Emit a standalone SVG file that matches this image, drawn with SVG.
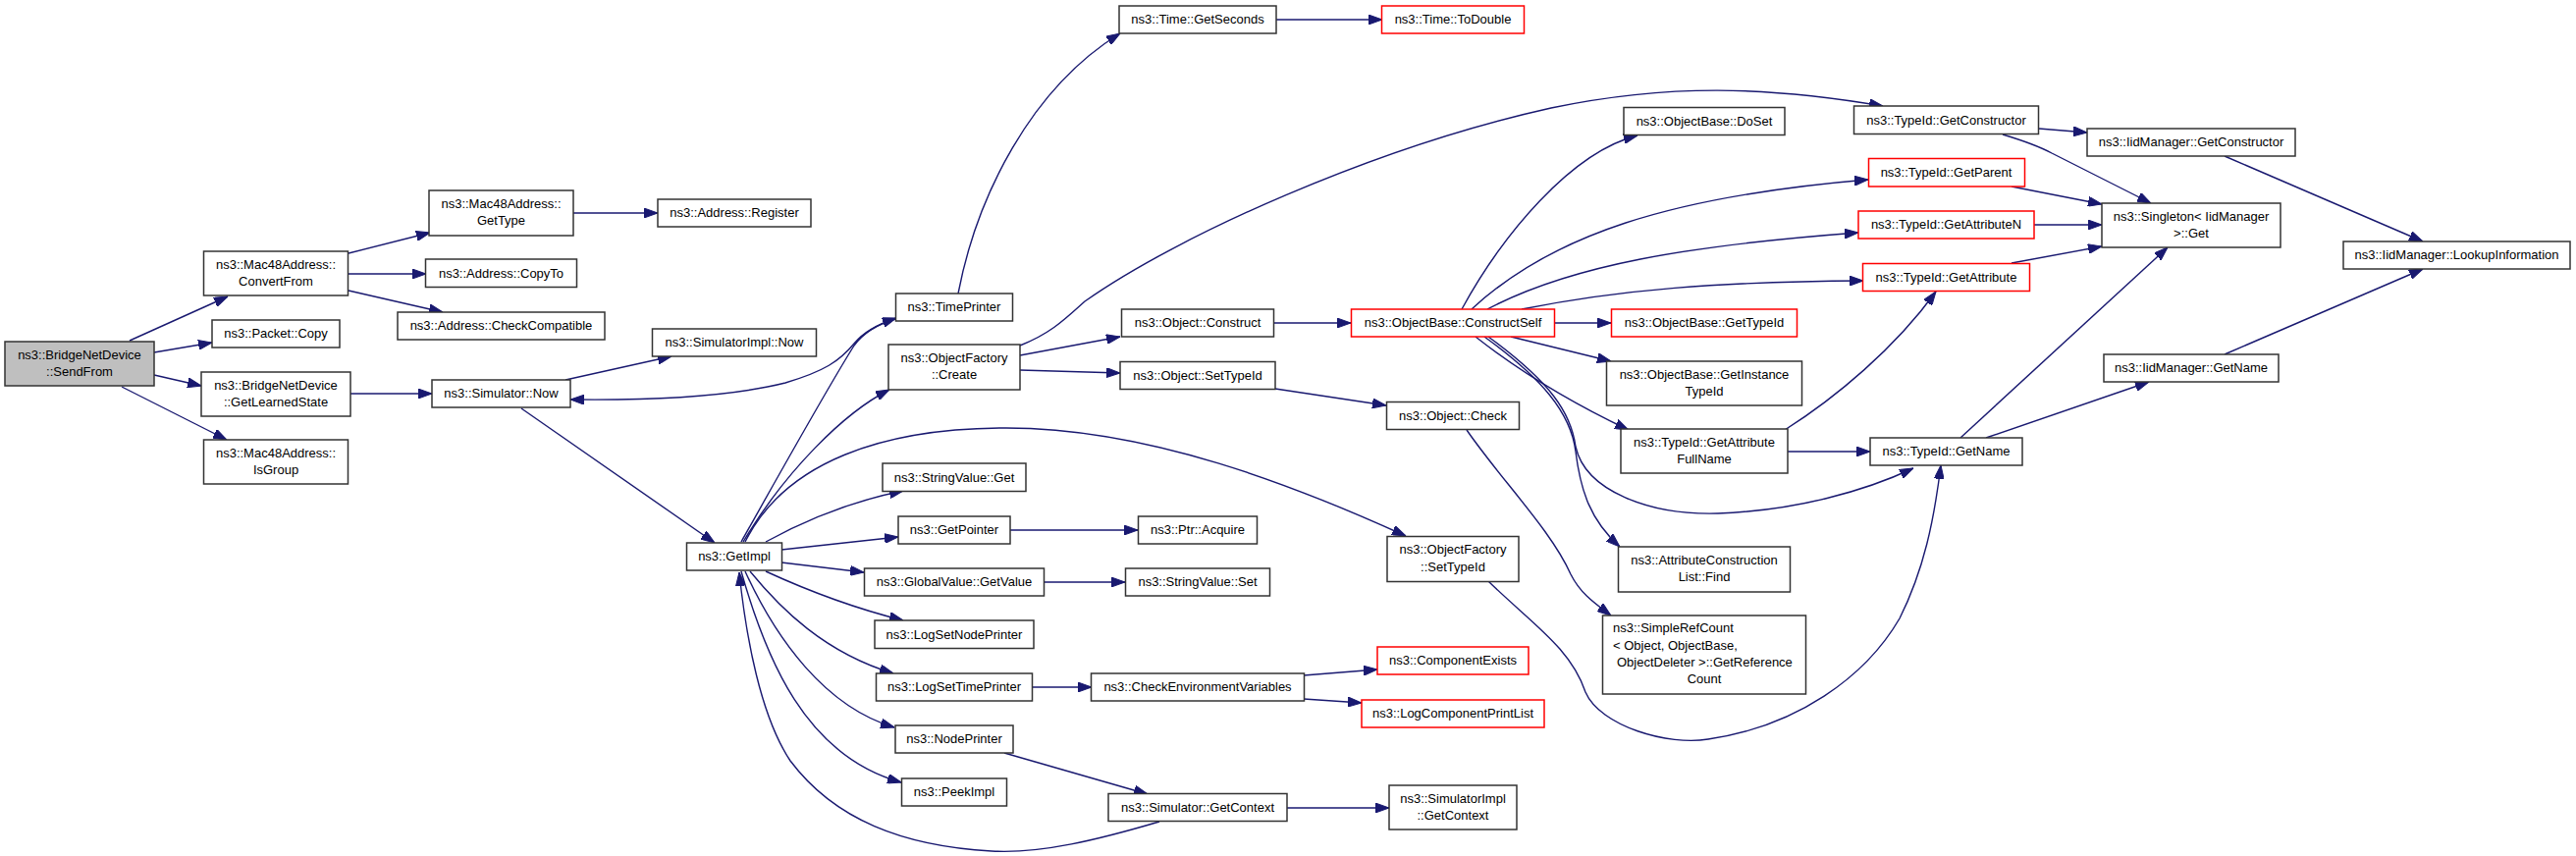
<svg xmlns="http://www.w3.org/2000/svg" width="2624" height="872" viewBox="0 0 2624 872">
<style>
.node rect{fill:#fff;stroke:#333;stroke-width:1.5}
.node.red rect{stroke:#f00}
.node.root rect{fill:#bfbfbf}
text{font-family:"Liberation Sans",Arial,Helvetica,sans-serif;font-size:13px;fill:#000;text-anchor:middle}
text.l{text-anchor:start}
#edges path{fill:none;stroke:#191970;stroke-width:1.4;marker-end:url(#ah)}
</style>
<defs>
<marker id="ah" markerWidth="14" markerHeight="10" refX="14" refY="5" orient="auto" markerUnits="userSpaceOnUse">
<path d="M0,0 L14,5 L0,10 z" fill="#191970" stroke="#191970" stroke-width="1"/>
</marker>
</defs>
<rect width="2624" height="872" fill="#fff"/>
<g id="edges">
<path d="M132,347 L232,302"/>
<path d="M157,359 L216,349"/>
<path d="M157,382 L205,393"/>
<path d="M124,394 L231,448"/>
<path d="M355,258 L438,237"/>
<path d="M355,279 L434,279"/>
<path d="M355,296 L451,318"/>
<path d="M584,217 L670,217"/>
<path d="M357,401 L440,401"/>
<path d="M576,387 L684,363"/>
<path d="M531,416 L728,553"/>
<path d="M912,325 C895,330 880,338 870,350 C855,368 840,378 800,390 C740,405 660,408 581,407"/>
<path d="M755,552 C790,490 840,400 870,352 C880,338 895,330 913,324"/>
<path d="M757,552 C800,480 860,420 906,397"/>
<path d="M759,552 C800,470 900,436 1025,436 C1170,436 1320,495 1432,546"/>
<path d="M780,552 C820,530 870,510 920,500"/>
<path d="M796,560 L915,547"/>
<path d="M796,573 L880,583"/>
<path d="M780,582 C830,605 880,622 920,632"/>
<path d="M764,582 C795,620 840,665 910,686"/>
<path d="M759,582 C790,650 840,720 911,741"/>
<path d="M755,582 C780,670 820,770 918,797"/>
<path d="M1181,837 C1120,855 1060,870 1010,867 C920,862 850,835 805,775 C775,730 760,650 753,583"/>
<path d="M1029,540 L1159,540"/>
<path d="M1063,593 L1146,593"/>
<path d="M1051,700 L1112,700"/>
<path d="M1023,767 L1169,809"/>
<path d="M1328,688 L1403,682"/>
<path d="M1328,712 L1387,716"/>
<path d="M1311,823 L1415,823"/>
<path d="M976,299 C995,200 1050,90 1141,34"/>
<path d="M1300,20 L1408,20"/>
<path d="M1039,352 C1070,340 1085,325 1105,307 C1200,240 1400,150 1580,110 C1700,85 1800,88 1918,108"/>
<path d="M1039,362 L1141,343"/>
<path d="M1039,377 L1141,380"/>
<path d="M1297,329 L1376,329"/>
<path d="M1299,396 L1412,413"/>
<path d="M1494,438 C1530,490 1580,540 1600,585 C1610,605 1625,615 1641,627"/>
<path d="M1516,592 C1560,635 1600,660 1615,705 C1630,740 1700,760 1740,753 C1830,740 1900,690 1935,630 C1960,580 1970,530 1977,474"/>
<path d="M1489,315 C1530,240 1600,155 1668,138"/>
<path d="M1499,315 C1580,240 1700,200 1903,183"/>
<path d="M1515,315 C1600,270 1720,250 1893,237"/>
<path d="M1550,315 C1650,295 1750,287 1898,286"/>
<path d="M1583,329 L1641,329"/>
<path d="M1539,343 L1641,368"/>
<path d="M1503,343 C1550,380 1600,410 1659,438"/>
<path d="M1512,343 C1570,385 1600,420 1605,460 C1610,500 1620,530 1650,557"/>
<path d="M1516,343 C1580,390 1600,420 1605,455 C1615,500 1680,525 1750,523 C1830,520 1900,500 1949,477"/>
<path d="M1818,438 C1870,405 1930,355 1972,297"/>
<path d="M1820,460 L1905,460"/>
<path d="M2077,131 L2126,135"/>
<path d="M2040,137 C2060,143 2075,148 2090,156 L2191,207"/>
<path d="M2049,190 L2141,208"/>
<path d="M2072,229 L2141,229"/>
<path d="M2049,268 L2141,251"/>
<path d="M1997,446 L2208,252"/>
<path d="M2023,446 L2189,389"/>
<path d="M2266,159 L2468,246"/>
<path d="M2266,361 L2468,274"/>
</g>
<g id="n_sendfrom" class="node root"><rect x="5" y="348" width="152" height="45"/><text x="81" y="365.5">ns3::BridgeNetDevice</text><text x="81" y="383">::SendFrom</text></g>
<g id="n_convertfrom" class="node"><rect x="207.5" y="256" width="147" height="45"/><text x="281" y="273.5">ns3::Mac48Address::</text><text x="281" y="291">ConvertFrom</text></g>
<g id="n_packetcopy" class="node"><rect x="216" y="326" width="130" height="28"/><text x="281" y="344">ns3::Packet::Copy</text></g>
<g id="n_getlearnedstate" class="node"><rect x="205" y="379" width="152" height="45"/><text x="281" y="396.5">ns3::BridgeNetDevice</text><text x="281" y="414">::GetLearnedState</text></g>
<g id="n_isgroup" class="node"><rect x="207.5" y="448" width="147" height="45"/><text x="281" y="465.5">ns3::Mac48Address::</text><text x="281" y="483">IsGroup</text></g>
<g id="n_gettype" class="node"><rect x="437" y="194" width="147" height="46"/><text x="510.5" y="211.5">ns3::Mac48Address::</text><text x="510.5" y="229">GetType</text></g>
<g id="n_copyto" class="node"><rect x="433.5" y="264" width="154" height="28.5"/><text x="510.5" y="282.5">ns3::Address::CopyTo</text></g>
<g id="n_checkcompatible" class="node"><rect x="405" y="318" width="211" height="28"/><text x="510.5" y="336">ns3::Address::CheckCompatible</text></g>
<g id="n_simnow" class="node"><rect x="440" y="387" width="141" height="28"/><text x="510.5" y="405">ns3::Simulator::Now</text></g>
<g id="n_register" class="node"><rect x="670" y="203" width="156" height="28"/><text x="748" y="221">ns3::Address::Register</text></g>
<g id="n_simimplnow" class="node"><rect x="664.5" y="335" width="167" height="28"/><text x="748" y="353">ns3::SimulatorImpl::Now</text></g>
<g id="n_getimpl" class="node"><rect x="699.5" y="553" width="97" height="28"/><text x="748" y="571">ns3::GetImpl</text></g>
<g id="n_timeprinter" class="node"><rect x="912.5" y="299" width="119" height="28"/><text x="972" y="317">ns3::TimePrinter</text></g>
<g id="n_create" class="node"><rect x="905" y="351" width="134" height="46"/><text x="972" y="368.5">ns3::ObjectFactory</text><text x="972" y="386">::Create</text></g>
<g id="n_stringget" class="node"><rect x="899" y="472" width="146" height="28.5"/><text x="972" y="490.5">ns3::StringValue::Get</text></g>
<g id="n_getpointer" class="node"><rect x="915" y="526" width="114" height="28"/><text x="972" y="544">ns3::GetPointer</text></g>
<g id="n_globalgetvalue" class="node"><rect x="880.5" y="579" width="183" height="28"/><text x="972" y="597">ns3::GlobalValue::GetValue</text></g>
<g id="n_logsetnodeprinter" class="node"><rect x="891" y="632" width="162" height="28.5"/><text x="972" y="650.5">ns3::LogSetNodePrinter</text></g>
<g id="n_logsettimeprinter" class="node"><rect x="892.5" y="686" width="159" height="28"/><text x="972" y="704">ns3::LogSetTimePrinter</text></g>
<g id="n_nodeprinter" class="node"><rect x="912" y="739" width="120" height="28"/><text x="972" y="757">ns3::NodePrinter</text></g>
<g id="n_peekimpl" class="node"><rect x="918.5" y="793" width="107" height="28"/><text x="972" y="811">ns3::PeekImpl</text></g>
<g id="n_getseconds" class="node"><rect x="1140" y="6" width="160" height="28"/><text x="1220" y="24">ns3::Time::GetSeconds</text></g>
<g id="n_construct" class="node"><rect x="1142.5" y="315" width="155" height="28"/><text x="1220" y="333">ns3::Object::Construct</text></g>
<g id="n_objsettypeid" class="node"><rect x="1141" y="368.5" width="158" height="28"/><text x="1220" y="386.5">ns3::Object::SetTypeId</text></g>
<g id="n_acquire" class="node"><rect x="1159.5" y="526" width="121" height="28"/><text x="1220" y="544">ns3::Ptr::Acquire</text></g>
<g id="n_stringset" class="node"><rect x="1146.5" y="579" width="147" height="28"/><text x="1220" y="597">ns3::StringValue::Set</text></g>
<g id="n_checkenv" class="node"><rect x="1111.5" y="686" width="217" height="28"/><text x="1220" y="704">ns3::CheckEnvironmentVariables</text></g>
<g id="n_getcontext" class="node"><rect x="1129" y="808.5" width="182" height="28"/><text x="1220" y="826.5">ns3::Simulator::GetContext</text></g>
<g id="n_todouble" class="node red"><rect x="1407.5" y="6" width="145" height="28"/><text x="1480" y="24">ns3::Time::ToDouble</text></g>
<g id="n_constructself" class="node red"><rect x="1376.5" y="315" width="207" height="28"/><text x="1480" y="333">ns3::ObjectBase::ConstructSelf</text></g>
<g id="n_objcheck" class="node"><rect x="1412.5" y="409.5" width="135" height="28"/><text x="1480" y="427.5">ns3::Object::Check</text></g>
<g id="n_ofsettypeid" class="node"><rect x="1413" y="546.5" width="134" height="46"/><text x="1480" y="564">ns3::ObjectFactory</text><text x="1480" y="581.5">::SetTypeId</text></g>
<g id="n_componentexists" class="node red"><rect x="1403" y="659" width="154" height="28"/><text x="1480" y="677">ns3::ComponentExists</text></g>
<g id="n_logcomponentprintlist" class="node red"><rect x="1387" y="713" width="186" height="28"/><text x="1480" y="731">ns3::LogComponentPrintList</text></g>
<g id="n_implgetcontext" class="node"><rect x="1415" y="800" width="130" height="45"/><text x="1480" y="817.5">ns3::SimulatorImpl</text><text x="1480" y="835">::GetContext</text></g>
<g id="n_doset" class="node"><rect x="1654" y="109.5" width="164" height="28"/><text x="1736" y="127.5">ns3::ObjectBase::DoSet</text></g>
<g id="n_obgettypeid" class="node red"><rect x="1641.5" y="315" width="189" height="28"/><text x="1736" y="333">ns3::ObjectBase::GetTypeId</text></g>
<g id="n_getinstancetypeid" class="node"><rect x="1636.5" y="368" width="199" height="45"/><text x="1736" y="385.5">ns3::ObjectBase::GetInstance</text><text x="1736" y="403">TypeId</text></g>
<g id="n_getattrfullname" class="node"><rect x="1651" y="437" width="170" height="45"/><text x="1736" y="454.5">ns3::TypeId::GetAttribute</text><text x="1736" y="472">FullName</text></g>
<g id="n_acfind" class="node"><rect x="1648.5" y="557" width="175" height="46"/><text x="1736" y="574.5">ns3::AttributeConstruction</text><text x="1736" y="592">List::Find</text></g>
<g id="n_simplerefcount" class="node"><rect x="1632.5" y="627" width="207" height="80"/><text class="l" x="1643" y="644">ns3::SimpleRefCount</text><text class="l" x="1643" y="661.5">&lt; Object, ObjectBase,</text><text class="l" x="1647" y="679">ObjectDeleter &gt;::GetReference</text><text x="1736" y="696">Count</text></g>
<g id="n_tgetconstructor" class="node"><rect x="1888.5" y="108" width="188" height="28.5"/><text x="1982.5" y="126.5">ns3::TypeId::GetConstructor</text></g>
<g id="n_getparent" class="node red"><rect x="1903.5" y="161.5" width="159" height="28.5"/><text x="1982.5" y="180">ns3::TypeId::GetParent</text></g>
<g id="n_getattributen" class="node red"><rect x="1893" y="215" width="179" height="28"/><text x="1982.5" y="233">ns3::TypeId::GetAttributeN</text></g>
<g id="n_getattribute" class="node red"><rect x="1897.5" y="268.5" width="170" height="28"/><text x="1982.5" y="286.5">ns3::TypeId::GetAttribute</text></g>
<g id="n_tgetname" class="node"><rect x="1905" y="446" width="155" height="28"/><text x="1982.5" y="464">ns3::TypeId::GetName</text></g>
<g id="n_iidgetconstructor" class="node"><rect x="2126" y="131" width="212" height="28"/><text x="2232" y="149">ns3::IidManager::GetConstructor</text></g>
<g id="n_singletonget" class="node"><rect x="2141" y="207" width="182" height="45"/><text x="2232" y="224.5">ns3::Singleton&lt; IidManager</text><text x="2232" y="242">&gt;::Get</text></g>
<g id="n_iidgetname" class="node"><rect x="2143" y="361" width="178" height="28"/><text x="2232" y="379">ns3::IidManager::GetName</text></g>
<g id="n_lookup" class="node"><rect x="2387" y="246" width="231" height="28"/><text x="2502.5" y="264">ns3::IidManager::LookupInformation</text></g>
</svg>
